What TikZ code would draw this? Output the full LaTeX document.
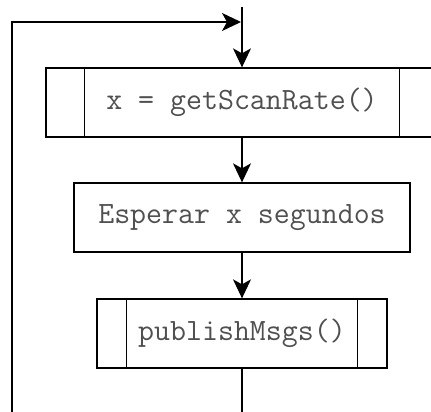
\documentclass[tikz,border=0pt]{standalone}
\usepackage{fontspec}
\usetikzlibrary{arrows.meta,calc}
\definecolor{txt}{HTML}{505050}
\tikzset{
  box/.style={draw=black, line width=1.3pt, minimum height=69pt, inner sep=0pt, fill=white,
    font=\ttfamily\fontsize{31}{33}\selectfont, text=txt},
  conn/.style={line width=1.3pt, draw=black},
  arr/.style={conn, -{Stealth[length=19pt,width=18pt,inset=5pt]}},
}
\begin{document}
\begin{tikzpicture}[x=1pt,y=-1pt]
\useasboundingbox[fill=white] (0,0) rectangle (431,412);
\node[box, minimum width=392pt] (b1) at (242,102.5) {x = getScanRate()};
\node[box, minimum width=336pt] (b2) at (242,217.5) {Esperar x segundos};
\node[box, minimum width=290pt] (b3) at (242,333.5) {publishMsgs()};
\draw[conn] ($(b1.north west)+(39,0)$) -- ($(b1.south west)+(39,0)$);
\draw[conn] ($(b1.north east)+(-39,0)$) -- ($(b1.south east)+(-39,0)$);
\draw[conn] ($(b3.north west)+(30,0)$) -- ($(b3.south west)+(30,0)$);
\draw[conn] ($(b3.north east)+(-30,0)$) -- ($(b3.south east)+(-30,0)$);
\coordinate (top) at (242,7);
\coordinate (join) at (241,22);
\coordinate (lb) at (12,412);
\coordinate (bot) at (242,412);
\draw[arr] (lb) |- (join);
\draw[arr] (top) -- (b1.north);
\draw[arr] (b1.south) -- (b2.north);
\draw[arr] (b2.south) -- (b3.north);
\draw[conn] (b3.south) -- (bot);
\end{tikzpicture}
\end{document}
